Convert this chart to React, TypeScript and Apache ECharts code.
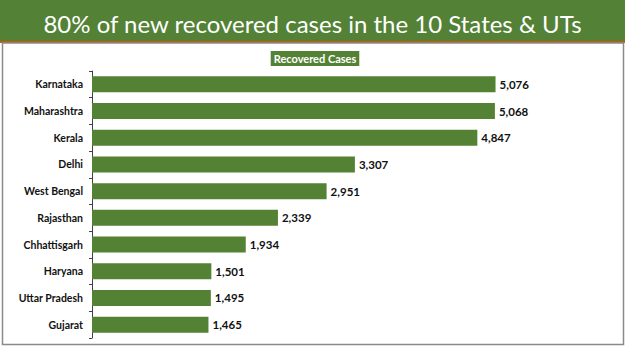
import React, { useEffect, useRef } from "react";
import * as echarts from "echarts";

const categories = [
  "Karnataka",
  "Maharashtra",
  "Kerala",
  "Delhi",
  "West Bengal",
  "Rajasthan",
  "Chhattisgarh",
  "Haryana",
  "Uttar Pradesh",
  "Gujarat",
];
const recovered = [5076, 5068, 4847, 3307, 2951, 2339, 1934, 1501, 1495, 1465];
const titleText = "80% of new recovered cases in the 10 States & UTs";
const seriesName = "Recovered Cases";

const GREEN = "#548235";

export default function App() {
  const ref = useRef<HTMLDivElement>(null);
  useEffect(() => {
    if (!ref.current) return;
    const chart = echarts.init(ref.current, null, { renderer: "svg" });
    chart.setOption({
      animation: false,
      backgroundColor: "#ffffff",
      title: {
        text: titleText,
        left: "center",
        top: 6,
        textStyle: {
          color: "#ffffff",
          fontFamily: "Lato",
          fontWeight: "normal",
          fontSize: 24,
        },
      },
      graphic: [
        {
          type: "rect",
          z: -1,
          shape: { x: 0, y: 0, width: 625, height: 42 },
          style: { fill: "#538135" },
          silent: true,
        },
        {
          type: "rect",
          z: -1,
          shape: { x: 0, y: 41, width: 625, height: 2 },
          style: { fill: "#C55A11" },
          silent: true,
        },
        {
          type: "rect",
          z: -1,
          shape: { x: 2.5, y: 43, width: 621, height: 301.5 },
          style: { fill: "#ffffff", stroke: "#8a8a8a", lineWidth: 1.5 },
          silent: true,
        },
      ],
      legend: {
        data: [seriesName],
        top: 46,
        left: "center",
        icon: "none",
        itemWidth: 0,
        itemGap: 0,
        textStyle: {
          color: "#ffffff",
          fontWeight: "bold",
          fontFamily: "Lato",
          fontSize: 11,
          backgroundColor: GREEN,
          padding: [2, 3, 2, 3],
        },
      },
      grid: {
        left: 92,
        top: 71,
        height: 267,
        width: 477,
        containLabel: false,
      },
      xAxis: {
        type: "value",
        min: 0,
        max: 6000,
        show: false,
        splitLine: { show: false },
      },
      yAxis: {
        type: "category",
        data: categories,
        inverse: true,
        axisLine: { show: true, lineStyle: { color: "#404040", width: 1 } },
        axisTick: { show: true, length: 3, lineStyle: { color: "#404040" } },
        axisLabel: {
          color: "#111111",
          fontWeight: "bold",
          fontFamily: "Lato",
          fontSize: 10.5,
          margin: 9,
        },
      },
      series: [
        {
          name: seriesName,
          type: "bar",
          data: recovered,
          barWidth: "60%",
          itemStyle: { color: GREEN },
          label: {
            show: true,
            position: "right",
            distance: 4,
            color: "#111111",
            fontWeight: "bold",
            fontFamily: "Lato",
            fontSize: 11.5,
            formatter: (p: any) => Number(p.value).toLocaleString("en-US"),
          },
        },
      ],
    });
    return () => chart.dispose();
  }, []);
  return (
    <div
      ref={ref}
      style={{ position: "fixed", left: 0, top: 0, width: 625, height: 351 }}
    />
  );
}
